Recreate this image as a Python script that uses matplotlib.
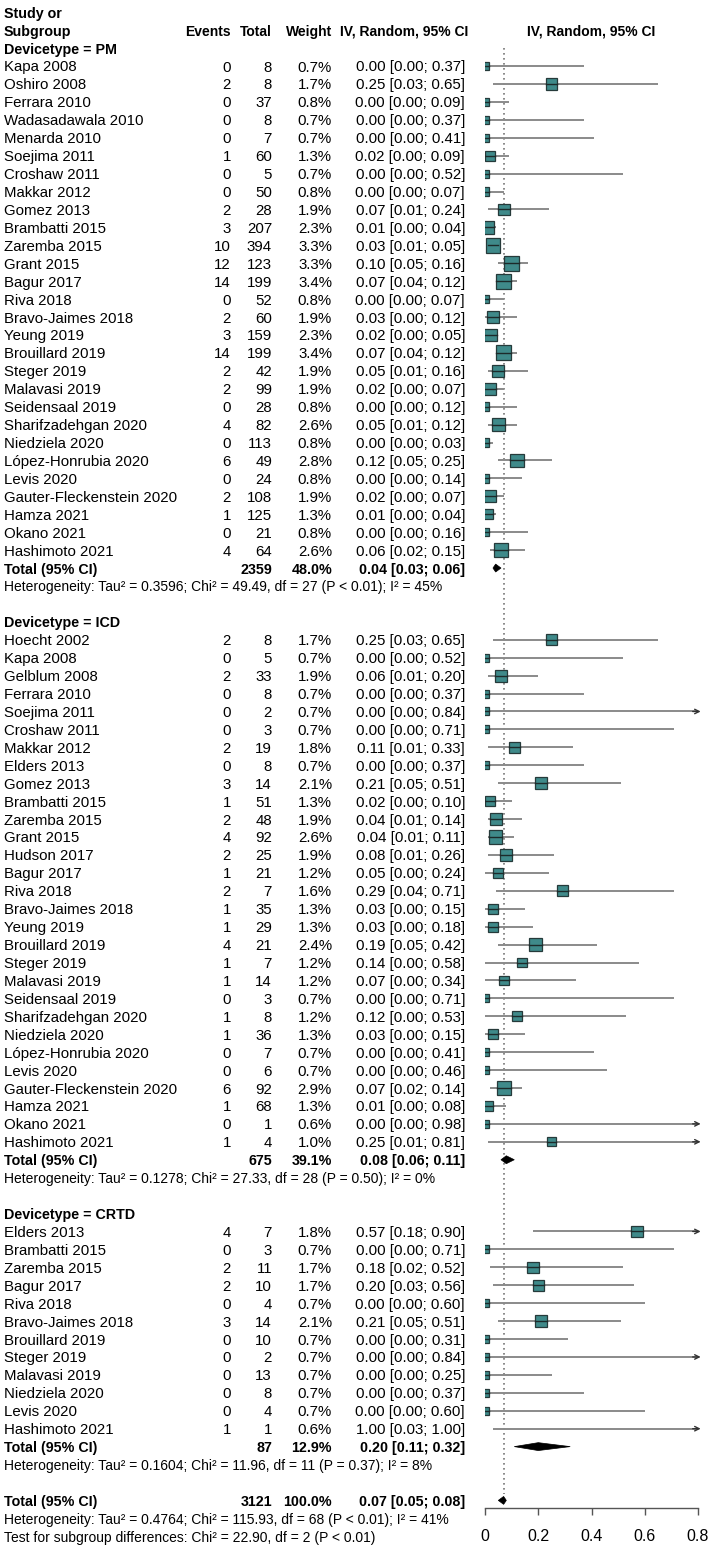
import numpy as np
import matplotlib
matplotlib.use("Agg")
import matplotlib.pyplot as plt
from matplotlib.patches import Rectangle, Polygon

plt.rcParams['font.family'] = ['Liberation Sans', 'DejaVu Sans']

# ---- data ----
pm_study = ["Kapa 2008", "Oshiro 2008", "Ferrara 2010", "Wadasadawala 2010", "Menarda 2010",
            "Soejima 2011", "Croshaw 2011", "Makkar 2012", "Gomez 2013", "Brambatti 2015",
            "Zaremba 2015", "Grant 2015", "Bagur 2017", "Riva 2018", "Bravo-Jaimes 2018",
            "Yeung 2019", "Brouillard 2019", "Steger 2019", "Malavasi 2019", "Seidensaal 2019",
            "Sharifzadehgan 2020", "Niedziela 2020", "López-Honrubia 2020", "Levis 2020",
            "Gauter-Fleckenstein 2020", "Hamza 2021", "Okano 2021", "Hashimoto 2021"]
pm_events = [0, 2, 0, 0, 0, 1, 0, 0, 2, 3, 10, 12, 14, 0, 2, 3, 14, 2, 2, 0, 4, 0, 6, 0, 2, 1, 0, 4]
pm_total = [8, 8, 37, 8, 7, 60, 5, 50, 28, 207, 394, 123, 199, 52, 60, 159, 199, 42, 99, 28,
            82, 113, 49, 24, 108, 125, 21, 64]
pm_weight = [0.7, 1.7, 0.8, 0.7, 0.7, 1.3, 0.7, 0.8, 1.9, 2.3, 3.3, 3.3, 3.4, 0.8, 1.9, 2.3,
             3.4, 1.9, 1.9, 0.8, 2.6, 0.8, 2.8, 0.8, 1.9, 1.3, 0.8, 2.6]
pm_est = [0.00, 0.25, 0.00, 0.00, 0.00, 0.02, 0.00, 0.00, 0.07, 0.01, 0.03, 0.10, 0.07, 0.00,
          0.03, 0.02, 0.07, 0.05, 0.02, 0.00, 0.05, 0.00, 0.12, 0.00, 0.02, 0.01, 0.00, 0.06]
pm_lo = [0.00, 0.03, 0.00, 0.00, 0.00, 0.00, 0.00, 0.00, 0.01, 0.00, 0.01, 0.05, 0.04, 0.00,
         0.00, 0.00, 0.04, 0.01, 0.00, 0.00, 0.01, 0.00, 0.05, 0.00, 0.00, 0.00, 0.00, 0.02]
pm_hi = [0.37, 0.65, 0.09, 0.37, 0.41, 0.09, 0.52, 0.07, 0.24, 0.04, 0.05, 0.16, 0.12, 0.07,
         0.12, 0.05, 0.12, 0.16, 0.07, 0.12, 0.12, 0.03, 0.25, 0.14, 0.07, 0.04, 0.16, 0.15]

icd_study = ["Hoecht 2002", "Kapa 2008", "Gelblum 2008", "Ferrara 2010", "Soejima 2011",
             "Croshaw 2011", "Makkar 2012", "Elders 2013", "Gomez 2013", "Brambatti 2015",
             "Zaremba 2015", "Grant 2015", "Hudson 2017", "Bagur 2017", "Riva 2018",
             "Bravo-Jaimes 2018", "Yeung 2019", "Brouillard 2019", "Steger 2019", "Malavasi 2019",
             "Seidensaal 2019", "Sharifzadehgan 2020", "Niedziela 2020", "López-Honrubia 2020",
             "Levis 2020", "Gauter-Fleckenstein 2020", "Hamza 2021", "Okano 2021", "Hashimoto 2021"]
icd_events = [2, 0, 2, 0, 0, 0, 2, 0, 3, 1, 2, 4, 2, 1, 2, 1, 1, 4, 1, 1, 0, 1, 1, 0, 0, 6, 1, 0, 1]
icd_total = [8, 5, 33, 8, 2, 3, 19, 8, 14, 51, 48, 92, 25, 21, 7, 35, 29, 21, 7, 14, 3, 8, 36,
             7, 6, 92, 68, 1, 4]
icd_weight = [1.7, 0.7, 1.9, 0.7, 0.7, 0.7, 1.8, 0.7, 2.1, 1.3, 1.9, 2.6, 1.9, 1.2, 1.6, 1.3,
              1.3, 2.4, 1.2, 1.2, 0.7, 1.2, 1.3, 0.7, 0.7, 2.9, 1.3, 0.6, 1.0]
icd_est = [0.25, 0.00, 0.06, 0.00, 0.00, 0.00, 0.11, 0.00, 0.21, 0.02, 0.04, 0.04, 0.08, 0.05,
           0.29, 0.03, 0.03, 0.19, 0.14, 0.07, 0.00, 0.12, 0.03, 0.00, 0.00, 0.07, 0.01, 0.00, 0.25]
icd_lo = [0.03, 0.00, 0.01, 0.00, 0.00, 0.00, 0.01, 0.00, 0.05, 0.00, 0.01, 0.01, 0.01, 0.00,
          0.04, 0.00, 0.00, 0.05, 0.00, 0.00, 0.00, 0.00, 0.00, 0.00, 0.00, 0.02, 0.00, 0.00, 0.01]
icd_hi = [0.65, 0.52, 0.20, 0.37, 0.84, 0.71, 0.33, 0.37, 0.51, 0.10, 0.14, 0.11, 0.26, 0.24,
          0.71, 0.15, 0.18, 0.42, 0.58, 0.34, 0.71, 0.53, 0.15, 0.41, 0.46, 0.14, 0.08, 0.98, 0.81]

crtd_study = ["Elders 2013", "Brambatti 2015", "Zaremba 2015", "Bagur 2017", "Riva 2018",
              "Bravo-Jaimes 2018", "Brouillard 2019", "Steger 2019", "Malavasi 2019",
              "Niedziela 2020", "Levis 2020", "Hashimoto 2021"]
crtd_events = [4, 0, 2, 2, 0, 3, 0, 0, 0, 0, 0, 1]
crtd_total = [7, 3, 11, 10, 4, 14, 10, 2, 13, 8, 4, 1]
crtd_weight = [1.8, 0.7, 1.7, 1.7, 0.7, 2.1, 0.7, 0.7, 0.7, 0.7, 0.7, 0.6]
crtd_est = [0.57, 0.00, 0.18, 0.20, 0.00, 0.21, 0.00, 0.00, 0.00, 0.00, 0.00, 1.00]
crtd_lo = [0.18, 0.00, 0.02, 0.03, 0.00, 0.05, 0.00, 0.00, 0.00, 0.00, 0.00, 0.03]
crtd_hi = [0.90, 0.71, 0.52, 0.56, 0.60, 0.51, 0.31, 0.84, 0.25, 0.37, 0.60, 1.00]

group_names = ["Devicetype = PM", "Devicetype = ICD", "Devicetype = CRTD"]
group_total = [2359, 675, 87]
group_weight = [48.0, 39.1, 12.9]
group_est = [0.04, 0.08, 0.20]
group_lo = [0.03, 0.06, 0.11]
group_hi = [0.06, 0.11, 0.32]
group_het = ["Heterogeneity: Tau² = 0.3596; Chi² = 49.49, df = 27 (P < 0.01); I² = 45%",
             "Heterogeneity: Tau² = 0.1278; Chi² = 27.33, df = 28 (P = 0.50); I² = 0%",
             "Heterogeneity: Tau² = 0.1604; Chi² = 11.96, df = 11 (P = 0.37); I² = 8%"]

overall_total = 3121
overall_weight = 100.0
overall_est, overall_lo, overall_hi = 0.07, 0.05, 0.08
overall_het = "Heterogeneity: Tau² = 0.4764; Chi² = 115.93, df = 68 (P < 0.01); I² = 41%"
subgroup_test = "Test for subgroup differences: Chi² = 22.90, df = 2 (P < 0.01)"

x_ticks = [0, 0.2, 0.4, 0.6, 0.8]

groups = [
    (pm_study, pm_events, pm_total, pm_weight, pm_est, pm_lo, pm_hi),
    (icd_study, icd_events, icd_total, icd_weight, icd_est, icd_lo, icd_hi),
    (crtd_study, crtd_events, crtd_total, crtd_weight, crtd_est, crtd_lo, crtd_hi),
]

# ---- layout (pixels of a 709 x 1545 image) ----
W, H = 709, 1545
row0_px, row_px = 66.0, 17.93      # y of first study row and row pitch
plot_left, plot_right = 485, 698    # x pixels of 0 and 0.8
axis_px = 1508                      # y pixel of the x axis line
xmax = x_ticks[-1]

top_row = -row0_px / row_px
bot_row = (H - row0_px) / row_px
axis_row = (axis_px - row0_px) / row_px

fs = 10.8        # study rows
fs_bold = 10.3   # totals / subgroup names
fs_head = 10.0   # column headers
fs_small = 10.0  # heterogeneity lines
sq_fill = '#3f8a8a'
sq_edge = '#263a3a'
ci_col = '#8a8a8a'

fig = plt.figure(figsize=(W / 100, H / 100), dpi=100)

# text axes: x in pixels, y in rows
tx = fig.add_axes([0, 0, 1, 1])
tx.set_xlim(0, W)
tx.set_ylim(bot_row, top_row)
tx.axis('off')

# forest axes: x in proportion, same rows
fx = fig.add_axes([plot_left / W, (H - axis_px) / H, (plot_right - plot_left) / W, axis_px / H])
fx.set_xlim(0, xmax)
fx.set_ylim(axis_row, top_row)
fx.patch.set_alpha(0)
for s in ['top', 'left', 'right']:
    fx.spines[s].set_visible(False)
fx.spines['bottom'].set_color('#555555')
fx.spines['bottom'].set_linewidth(1.0)
fx.set_yticks([])
fx.set_xticks(x_ticks)
fx.set_xticklabels(['0', '0.2', '0.4', '0.6', '0.8'], fontsize=11.5)
fx.tick_params(axis='x', direction='out', length=5, width=1.0, color='#555555', pad=10)

px_per_x = (plot_right - plot_left) / xmax

x_events, x_total, x_weight, x_ci = 231, 272, 332, 465


def put(row, x, s, ha='right', bold=False, size=fs):
    tx.text(x, row, s, ha=ha, va='center_baseline', fontsize=size,
            fontweight='bold' if bold else 'normal', color='black')


def ci_text(e, lo, hi):
    return f"{e:.2f} [{lo:.2f}; {hi:.2f}]"


def draw_study(row, w, e, lo, hi):
    side = 2.2 + 6.95 * np.sqrt(w)          # box side in px
    hw = side / 2 / px_per_x
    hh = side / 2 / row_px
    hi_c = min(hi, xmax)
    fx.plot([lo, hi_c], [row, row], color=ci_col, lw=1.4, zorder=1, solid_capstyle='butt')
    if hi > xmax:
        fx.annotate('', xy=(xmax + 0.01, row), xytext=(xmax - 0.02, row),
                    arrowprops=dict(arrowstyle='->', color='#333333', lw=1.0,
                                    mutation_scale=8, shrinkA=0, shrinkB=0),
                    annotation_clip=False)
    if e <= xmax:
        fx.add_patch(Rectangle((e - hw, row - hh), 2 * hw, 2 * hh, facecolor=sq_fill,
                               edgecolor=sq_edge, lw=0.9, zorder=2))
        fx.plot([max(lo, e - hw), min(hi_c, e + hw)], [row, row], color='#1c2a2a',
                lw=1.0, zorder=3)


def draw_diamond(row, e, lo, hi):
    h = 0.22
    fx.add_patch(Polygon([(lo, row), (e, row - h), (hi, row), (e, row + h)], closed=True,
                         facecolor='black', edgecolor='black', lw=0.5, zorder=3))


# ---- headers ----
put(-3, 4, "Study or", ha='left', bold=True, size=fs_bold)
put(-2, 4, "Subgroup", ha='left', bold=True, size=fs_bold)
put(-2, x_events, "Events", bold=True, size=fs_head)
put(-2, x_total, "Total", bold=True, size=fs_head)
put(-2, x_weight, "Weight", bold=True, size=fs_head)
put(-2, x_ci + 3, "IV, Random, 95% CI", bold=True, size=fs_head)
tx.text((plot_left + plot_right) / 2, -2, "IV, Random, 95% CI", ha='center',
        va='center_baseline', fontsize=fs_head, fontweight='bold')

# ---- rows ----
row = -1
for gi, g in enumerate(groups):
    names, ev, tot, wt, est, lo, hi = g
    put(row, 4, group_names[gi], ha='left', bold=True, size=fs_bold)
    row += 1
    for i in range(len(names)):
        put(row, 4, names[i], ha='left')
        put(row, x_events, str(ev[i]))
        put(row, x_total, str(tot[i]))
        put(row, x_weight, f"{wt[i]:.1f}%")
        put(row, x_ci, ci_text(est[i], lo[i], hi[i]))
        draw_study(row, wt[i], est[i], lo[i], hi[i])
        row += 1
    put(row, 4, "Total (95% CI)", ha='left', bold=True, size=fs_bold)
    put(row, x_total, str(group_total[gi]), bold=True, size=fs_bold)
    put(row, x_weight, f"{group_weight[gi]:.1f}%", bold=True, size=fs_bold)
    put(row, x_ci, ci_text(group_est[gi], group_lo[gi], group_hi[gi]), bold=True, size=fs_bold)
    draw_diamond(row, group_est[gi], group_lo[gi], group_hi[gi])
    row += 1
    put(row, 4, group_het[gi], ha='left', size=fs_small)
    row += 2

# overall
put(row, 4, "Total (95% CI)", ha='left', bold=True, size=fs_bold)
put(row, x_total, str(overall_total), bold=True, size=fs_bold)
put(row, x_weight, f"{overall_weight:.1f}%", bold=True, size=fs_bold)
put(row, x_ci, ci_text(overall_est, overall_lo, overall_hi), bold=True, size=fs_bold)
draw_diamond(row, overall_est, overall_lo, overall_hi)
put(row + 1, 4, overall_het, ha='left', size=fs_small)
put(row + 2, 4, subgroup_test, ha='left', size=fs_small)

# dotted reference line at the overall estimate
fx.plot([overall_est, overall_est], [-1, row - 0.35], color='#777777', lw=1.2,
        linestyle=(0, (1, 2)), zorder=0)

fig.savefig("out.png", dpi=100)
